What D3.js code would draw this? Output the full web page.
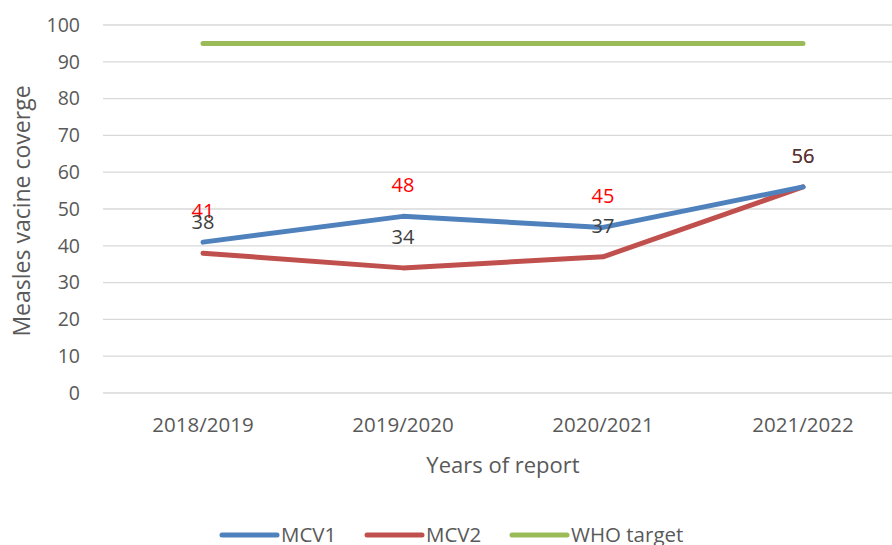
<!DOCTYPE html>
<html>
<head>
<meta charset="utf-8">
<script src="https://cdn.jsdelivr.net/npm/d3@7"></script>
<style>
  body { margin: 0; background: #fff; }
  text { font-family: "Open Sans", "Noto Sans", sans-serif; }
</style>
</head>
<body>
<svg width="892" height="545"></svg>
<script>
var years = ["2018/2019", "2019/2020", "2020/2021", "2021/2022"];
var mcv1 = [41, 48, 45, 56];
var mcv2 = [38, 34, 37, 56];
var whoTarget = [95, 95, 95, 95];
var yTicks = [0, 10, 20, 30, 40, 50, 60, 70, 80, 90, 100];

var svg = d3.select("svg");

var x = d3.scaleBand().domain(years).range([103, 903]);
var y = d3.scaleLinear().domain([0, 100]).range([393, 25]);

var series = [
  { name: "MCV1", values: mcv1, color: "#4f81bd", labelColor: "#ff0000" },
  { name: "MCV2", values: mcv2, color: "#c0504d", labelColor: "#404040" },
  { name: "WHO target", values: whoTarget, color: "#9bbb59", labelColor: null }
];

// gridlines
svg.append("g").selectAll("line")
  .data(yTicks)
  .enter().append("line")
    .attr("x1", 103).attr("x2", 892)
    .attr("y1", function(d) { return y(d); })
    .attr("y2", function(d) { return y(d); })
    .attr("stroke", "#d9d9d9")
    .attr("stroke-width", 1.3);

// y tick labels
svg.append("g").selectAll("text")
  .data(yTicks)
  .enter().append("text")
    .attr("x", 80)
    .attr("y", function(d) { return y(d); })
    .attr("dy", "0.35em")
    .attr("text-anchor", "end")
    .attr("fill", "#595959")
    .style("font-size", "19.5px")
    .text(function(d) { return d; });

// x tick labels
svg.append("g").selectAll("text")
  .data(years)
  .enter().append("text")
    .attr("x", function(d) { return x(d) + x.bandwidth() / 2; })
    .attr("y", 425)
    .attr("dy", "0.35em")
    .attr("text-anchor", "middle")
    .attr("fill", "#595959")
    .style("font-size", "20.5px")
    .text(function(d) { return d; });

// axis titles
svg.append("text")
  .attr("x", 503).attr("y", 465)
  .attr("dy", "0.35em")
  .attr("text-anchor", "middle")
  .attr("fill", "#595959")
  .style("font-size", "22px")
  .text("Years of report");

svg.append("text")
  .attr("transform", "translate(22,211) rotate(-90)")
  .attr("dy", "0.35em")
  .attr("text-anchor", "middle")
  .attr("fill", "#595959")
  .style("font-size", "23px")
  .text("Measles vacine coverge");

var line = d3.line()
  .x(function(d, i) { return x(years[i]) + x.bandwidth() / 2; })
  .y(function(d) { return y(d); });

svg.append("g").selectAll("path")
  .data(series.slice().reverse())
  .enter().append("path")
    .attr("d", function(s) { return line(s.values); })
    .attr("fill", "none")
    .attr("stroke", function(s) { return s.color; })
    .attr("stroke-width", 5)
    .attr("stroke-linecap", "round")
    .attr("stroke-linejoin", "round");

// data labels
series.filter(function(s) { return s.labelColor; }).forEach(function(s) {
  svg.append("g").selectAll("text")
    .data(s.values)
    .enter().append("text")
      .attr("x", function(d, i) { return x(years[i]) + x.bandwidth() / 2; })
      .attr("y", function(d) { return y(d) - 31; })
      .attr("dy", "0.35em")
      .attr("text-anchor", "middle")
      .attr("fill", s.labelColor)
      .style("font-size", "20px")
      .text(function(d) { return d; });
});

// legend
var legendX = [222, 367, 512];
var legend = svg.append("g").selectAll("g")
  .data(series)
  .enter().append("g")
    .attr("transform", function(d, i) { return "translate(" + legendX[i] + ",535)"; });
legend.append("line")
  .attr("x1", 0).attr("x2", 55)
  .attr("stroke", function(d) { return d.color; })
  .attr("stroke-width", 5)
  .attr("stroke-linecap", "round");
legend.append("text")
  .attr("x", 59)
  .attr("dy", "0.35em")
  .attr("fill", "#595959")
  .style("font-size", "20.5px")
  .text(function(d) { return d.name; });
</script>
</body>
</html>
